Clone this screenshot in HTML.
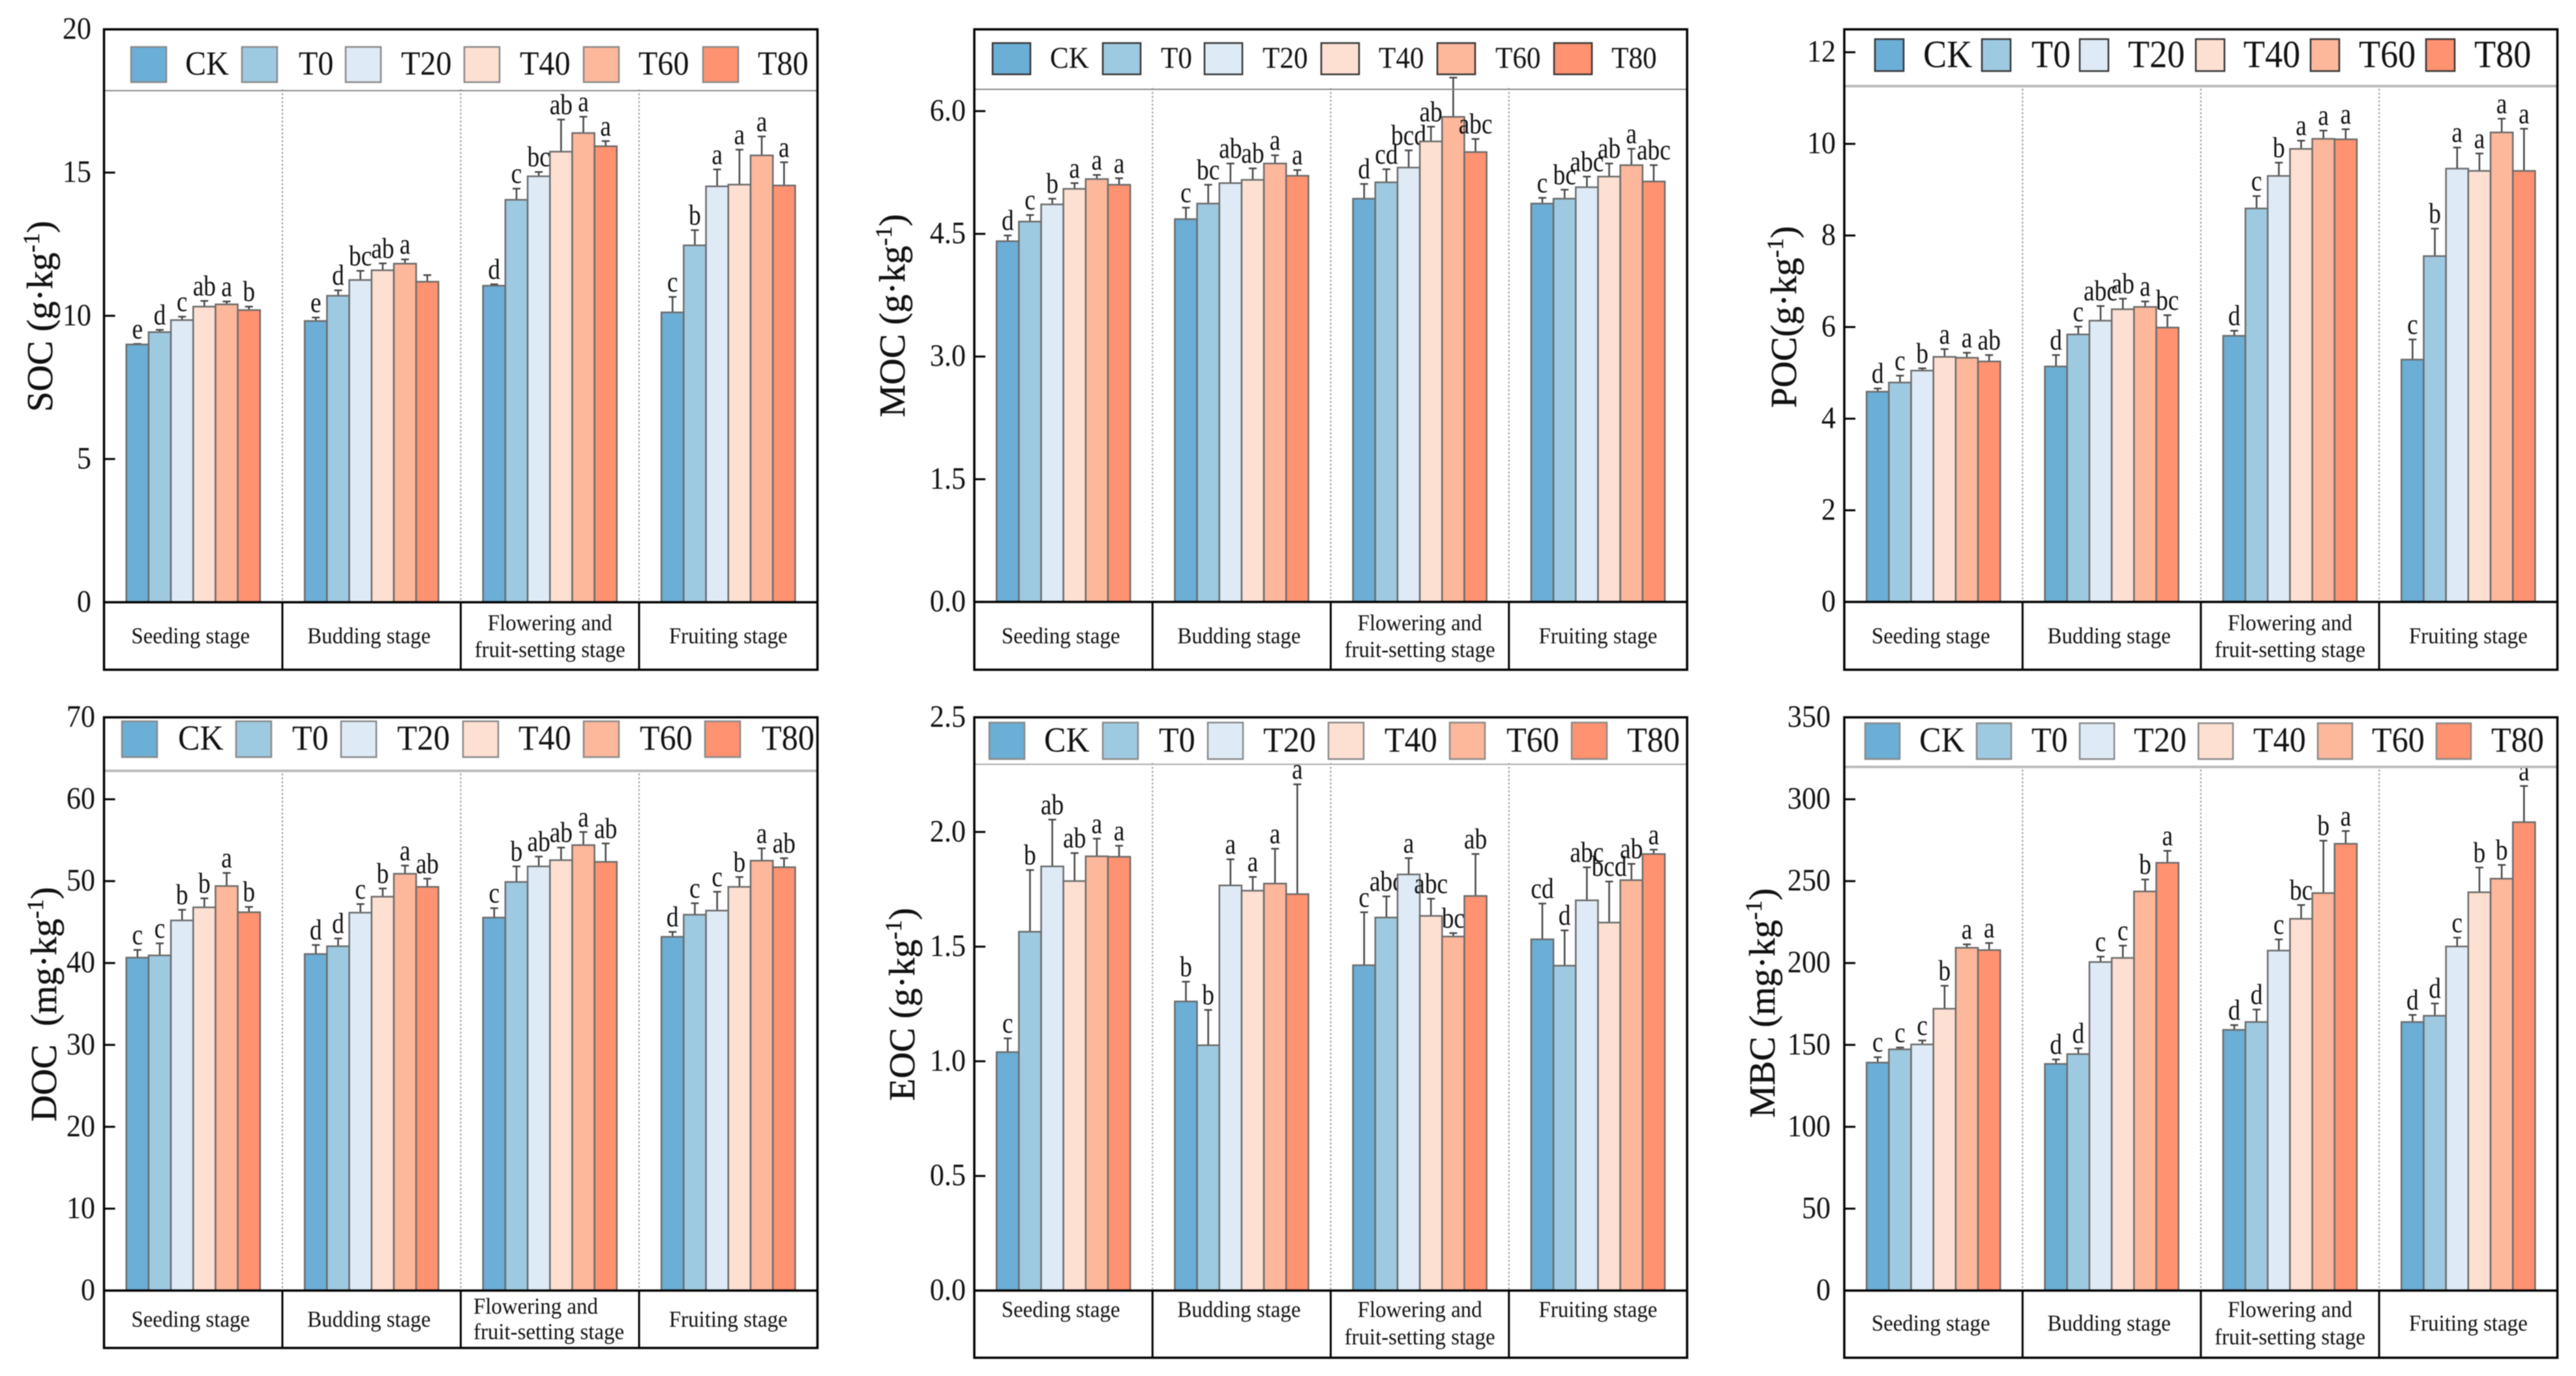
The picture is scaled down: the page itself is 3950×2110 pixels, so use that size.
<!DOCTYPE html>
<html lang="en">
<head>
<meta charset="utf-8">
<title>Soil carbon fractions by growth stage</title>
<style>
html,body{margin:0;padding:0;background:#fff;}
#figure{display:block;width:3950px;height:2110px;background:#fff;font-family:"Liberation Serif",serif;filter:blur(0.7px);}
text{font-family:"Liberation Serif",serif;fill:#111;}
</style>
</head>
<body>
<svg id="figure" xmlns="http://www.w3.org/2000/svg" width="3950" height="2110" viewBox="0 0 3950 2110"></svg>
<script>
// ---- shared categories ----
const stages = ['Seeding stage', 'Budding stage', 'Flowering and|fruit-setting stage', 'Fruiting stage'];
const treatments = ['CK', 'T0', 'T20', 'T40', 'T60', 'T80'];

// ---- SOC ----
const socTickLabels = ['0', '5', '10', '15', '20'];
const socMeans = [[9.0, 9.43, 9.85, 10.32, 10.4, 10.2], [9.82, 10.7, 11.25, 11.59, 11.82, 11.19], [11.05, 14.05, 14.87, 15.73, 16.38, 15.92], [10.12, 12.46, 14.52, 14.58, 15.6, 14.55]];
const socErrors = [[0.02, 0.08, 0.12, 0.2, 0.1, 0.12], [0.12, 0.19, 0.32, 0.24, 0.15, 0.23], [0.05, 0.39, 0.15, 1.12, 0.57, 0.18], [0.54, 0.53, 0.59, 1.22, 0.66, 0.81]];
const socLetters = [['e', 'd', 'c', 'ab', 'a', 'b'], ['e', 'd', 'bc', 'ab', 'a', ''], ['d', 'c', 'bc', 'ab', 'a', 'a'], ['c', 'b', 'a', 'a', 'a', 'a']];

// ---- MOC ----
const mocTickLabels = ['0.0', '1.5', '3.0', '4.5', '6.0'];
const mocMeans = [[4.41, 4.65, 4.86, 5.05, 5.17, 5.1], [4.68, 4.87, 5.12, 5.16, 5.36, 5.21], [4.93, 5.13, 5.31, 5.63, 5.93, 5.5], [4.87, 4.93, 5.07, 5.2, 5.34, 5.14]];
const mocErrors = [[0.07, 0.08, 0.07, 0.07, 0.05, 0.08], [0.14, 0.23, 0.24, 0.14, 0.1, 0.07], [0.18, 0.16, 0.21, 0.18, 0.48, 0.16], [0.07, 0.11, 0.13, 0.16, 0.2, 0.2]];
const mocLetters = [['d', 'c', 'b', 'a', 'a', 'a'], ['c', 'bc', 'ab', 'ab', 'a', 'a'], ['d', 'cd', 'bcd', 'ab', '', 'abc'], ['c', 'bc', 'abc', 'ab', 'a', 'abc']];

// ---- POC ----
const pocTickLabels = ['0', '2', '4', '6', '8', '10', '12'];
const pocMeans = [[4.59, 4.79, 5.05, 5.35, 5.33, 5.25], [5.14, 5.84, 6.14, 6.39, 6.44, 5.99], [5.81, 8.59, 9.3, 9.89, 10.11, 10.1], [5.29, 7.55, 9.46, 9.41, 10.25, 9.41]];
const pocErrors = [[0.07, 0.15, 0.05, 0.17, 0.11, 0.14], [0.25, 0.17, 0.32, 0.23, 0.12, 0.27], [0.11, 0.27, 0.29, 0.18, 0.18, 0.22], [0.44, 0.6, 0.46, 0.38, 0.3, 0.92]];
const pocLetters = [['d', 'c', 'b', 'a', 'a', 'ab'], ['d', 'c', 'abc', 'ab', 'a', 'bc'], ['d', 'c', 'b', 'a', 'a', 'a'], ['c', 'b', 'a', 'a', 'a', 'a']];

// ---- DOC ----
const docTickLabels = ['0', '10', '20', '30', '40', '50', '60', '70'];
const docMeans = [[40.66, 40.93, 45.2, 46.8, 49.4, 46.2], [41.1, 42.05, 46.15, 48.1, 50.9, 49.3], [45.55, 49.9, 51.8, 52.56, 54.4, 52.35], [43.2, 45.9, 46.4, 49.3, 52.5, 51.7]];
const docErrors = [[0.94, 1.47, 1.3, 1.1, 1.6, 0.65], [1.1, 0.95, 1.05, 1.0, 1.0, 1.0], [1.15, 1.9, 1.2, 1.54, 1.6, 2.25], [0.6, 1.4, 2.3, 1.2, 1.5, 1.1]];
const docLetters = [['c', 'c', 'b', 'b', 'a', 'b'], ['d', 'd', 'c', 'b', 'a', 'ab'], ['c', 'b', 'ab', 'ab', 'a', 'ab'], ['d', 'c', 'c', 'b', 'a', 'ab']];

// ---- EOC ----
const eocTickLabels = ['0.0', '0.5', '1.0', '1.5', '2.0', '2.5'];
const eocMeans = [[1.04, 1.565, 1.85, 1.786, 1.894, 1.892], [1.261, 1.07, 1.767, 1.744, 1.775, 1.729], [1.419, 1.627, 1.815, 1.634, 1.544, 1.721], [1.532, 1.417, 1.702, 1.605, 1.79, 1.904]];
const eocErrors = [[0.06, 0.269, 0.204, 0.122, 0.077, 0.048], [0.086, 0.154, 0.114, 0.06, 0.152, 0.479], [0.231, 0.092, 0.071, 0.075, 0.015, 0.183], [0.156, 0.154, 0.144, 0.179, 0.071, 0.019]];
const eocLetters = [['c', 'b', 'ab', 'ab', 'a', 'a'], ['b', 'b', 'a', 'a', 'a', 'a'], ['c', 'abc', 'a', 'abc', 'bc', 'ab'], ['cd', 'd', 'abc', 'bcd', 'ab', 'a']];

// ---- MBC ----
const mbcTickLabels = ['0', '50', '100', '150', '200', '250', '300', '350'];
const mbcMeans = [[139.2, 147.3, 150.3, 172.1, 209.3, 207.9], [138.4, 144.4, 200.6, 203.1, 243.7, 261.2], [159.2, 164, 207.6, 227, 242.7, 272.8], [164, 167.8, 210.1, 243.2, 251.5, 286]];
const mbcErrors = [[3.3, 1.1, 2.4, 14, 2.1, 4.3], [2.7, 3.5, 3.3, 7.5, 7.3, 7.3], [2.9, 7.6, 6.8, 8.4, 32, 7.8], [4.3, 7.5, 5.4, 15.1, 8.4, 22.1]];
const mbcLetters = [['c', 'c', 'c', 'b', 'a', 'a'], ['d', 'd', 'c', 'c', 'b', 'a'], ['d', 'd', 'c', 'bc', 'b', 'a'], ['d', 'd', 'c', 'b', 'b', 'a']];

// ---- styling ----
const fills = ['#6BAED6', '#9ECAE1', '#DEEBF7', '#FEE0D2', '#FDB79B', '#FF9270'];

// ---- panel definitions (layout lives here, values above) ----
const panels = [
  {id:'soc', prefix:'SOC (g·kg', suffix:')', yMax:20, ticks:socTickLabels, means:socMeans, errors:socErrors, letters:socLetters,
   left:159.5, right:1253.5, top:45, legendLine:139, base:923.5, bottom:1027, titleX:62, titleY:485, tickRight:140,
   stageY:977, stageTwo:[957,998], lineW:2, lineC:'#888',
   lgX:[201,371,530,712,895,1078], lgW:54, lgTop:72, lgBot:126, lgTx:[284,458,615,797,979,1162], lgY:98.5, lgFont:48, lgStroke:'#888'},
  {id:'moc', prefix:'MOC (g·kg', suffix:')', yMax:7, ticks:mocTickLabels, means:mocMeans, errors:mocErrors, letters:mocLetters,
   left:1494, right:2587, top:45, legendLine:137, base:923, bottom:1027, titleX:1369, titleY:484, tickRight:1481,
   stageY:977, stageTwo:[957,998], lineW:2, lineC:'#888',
   lgX:[1522,1691,1847,2026,2204,2383], lgW:58, lgTop:66, lgBot:114, lgTx:[1610,1780,1936,2114,2293,2471], lgY:90, lgFont:43, lgStroke:'#333'},
  {id:'poc', prefix:'POC(g·kg', suffix:')', yMax:12.5, ticks:pocTickLabels, means:pocMeans, errors:pocErrors, letters:pocLetters,
   left:2828, right:3921.5, top:45, legendLine:132, base:923, bottom:1027, titleX:2736, titleY:486, tickRight:2815,
   stageY:977, stageTwo:[957,998], lineW:4, lineC:'#bbb',
   lgX:[2875,3039,3189,3367,3543,3720], lgW:44, lgTop:60, lgBot:109, lgTx:[2949,3115,3263,3440,3617,3794], lgY:85, lgFont:54, lgStroke:'#333'},
  {id:'doc', prefix:'DOC\u00A0\u00A0(mg·kg', suffix:')', yMax:70, ticks:docTickLabels, means:docMeans, errors:docErrors, letters:docLetters,
   left:159.5, right:1253.5, top:1100, legendLine:1182, base:1979, bottom:2067, titleX:68, titleY:1540, tickRight:146,
   stageY:2025, stageTwo:[2005,2044], stageTwoLeft:726, lineW:4, lineC:'#bbb',
   lgX:[187,362,523,710,895,1081], lgW:54, lgTop:1106, lgBot:1161, lgTx:[273,448,609,795,981,1168], lgY:1133, lgFont:50, lgStroke:'#888'},
  {id:'eoc', prefix:'EOC (g·kg', suffix:')', yMax:2.5, ticks:eocTickLabels, means:eocMeans, errors:eocErrors, letters:eocLetters,
   left:1494, right:2587, top:1100, legendLine:1172, base:1979, bottom:2082, titleX:1384, titleY:1540, tickRight:1481,
   stageY:2010, stageTwo:[2010,2052], lineW:2, lineC:'#aaa',
   lgX:[1517,1691,1852,2037,2223,2410], lgW:54, lgTop:1108, lgBot:1164, lgTx:[1601,1777,1937,2123,2310,2495], lgY:1136, lgFont:50, lgStroke:'#888'},
  {id:'mbc', prefix:'MBC (mg·kg', suffix:')', yMax:350, ticks:mbcTickLabels, means:mbcMeans, errors:mbcErrors, letters:mbcLetters,
   left:2828, right:3921.5, top:1100, legendLine:1176, base:1979, bottom:2082, titleX:2703, titleY:1538, tickRight:2807,
   stageY:2031, stageTwo:[2010,2052], lineW:4, lineC:'#bbb',
   lgX:[2860,3031,3189,3371,3554,3736], lgW:53, lgTop:1109, lgBot:1164, lgTx:[2943,3115,3272,3455,3637,3820], lgY:1136, lgFont:50, lgStroke:'#888'}
];

const NS = 'http://www.w3.org/2000/svg';
const svg = document.getElementById('figure');

function make(tag, attrs, parent, content) {
  const el = document.createElementNS(NS, tag);
  for (const k in attrs) el.setAttribute(k, attrs[k]);
  if (content !== undefined) el.textContent = content;
  parent.appendChild(el);
  return el;
}

// The source figure's text is slightly condensed horizontally.
function label(parent, str, x, y, size, squeeze, anchor) {
  return make('text', {transform:'translate(' + x + ',' + y + ') scale(' + squeeze + ',1)', x:0, y:0, 'text-anchor':anchor, 'font-size':size}, parent, str);
}

function drawPanel(p) {
  const group = make('g', {}, svg);
  
  

  const yScale = v => p.base - (v / p.yMax) * (p.base - p.top);
  const cellW = (p.right - p.left) / stages.length;
  const barW = cellW * 0.75 / treatments.length;
  const xScale = (s, t) => p.left + s * cellW + cellW * 0.125 + t * barW;

  // dotted stage separators
  for (let s = 1; s < stages.length; s++) {
    const sx = p.left + s * cellW;
    const dot = make('line', {x1:sx, x2:sx, y1:p.legendLine - 2, y2:p.base, stroke:'#999', 'stroke-width':2, 'stroke-dasharray':'3 3'}, group);
    
    
  }

  // bars, error bars, significance letters
  stages.forEach((stage, s) => {
    treatments.forEach((tr, t) => {
      const mean = p.means[s][t];
      const err = p.errors[s][t];
      const x = xScale(s, t);
      const cx = x + barW / 2;
      const yTop = yScale(mean);
      const yErr = yScale(mean + err);

      const stem = make('line', {x1:cx, x2:cx, y1:yTop, y2:yErr, stroke:'#444', 'stroke-width':2.5}, group);
      
      
      const cap = make('line', {x1:cx - 6, x2:cx + 6, y1:yErr, y2:yErr, stroke:'#444', 'stroke-width':2.5}, group);
      
      

      const bar = make('rect', {x:x, y:yTop, width:barW, height:p.base - yTop, fill:fills[t], stroke:'#6a6a6a', 'stroke-width':2.5}, group);
      
      

      if (p.letters[s][t]) {
        const letter = label(group, p.letters[s][t], cx, yErr - 8.5, 44, 0.85, 'middle');
        
        
      }
    });
  });

  // legend separator
  const sep = make('line', {x1:p.left, x2:p.right, y1:p.legendLine, y2:p.legendLine, stroke:p.lineC, 'stroke-width':p.lineW}, group);
  
  

  // legend
  treatments.forEach((tr, t) => {
    const swatch = make('rect', {x:p.lgX[t], y:p.lgTop, width:p.lgW, height:p.lgBot - p.lgTop, fill:fills[t], stroke:p.lgStroke, 'stroke-width':2.5}, group);
    
    
    const lab = label(group, tr, p.lgTx[t], p.lgY + p.lgFont * 0.33, p.lgFont * 1.09, 0.92, 'start');
    
    
  });

  // frame and lower stage strip
  const frame = make('rect', {x:p.left, y:p.top, width:p.right - p.left, height:p.bottom - p.top, fill:'none', stroke:'#000', 'stroke-width':3.5}, group);
  
  
  const baseLine = make('line', {x1:p.left, x2:p.right, y1:p.base, y2:p.base, stroke:'#000', 'stroke-width':3.5}, group);
  
  

  stages.forEach((stage, s) => {
    if (s > 0) {
      const sx = p.left + s * cellW;
      const div = make('line', {x1:sx, x2:sx, y1:p.base, y2:p.bottom, stroke:'#000', 'stroke-width':3}, group);
      
      
    }
    const cx = p.left + (s + 0.5) * cellW;
    const lines = stage.split('|');
    lines.forEach((line, i) => {
      const ly = lines.length === 1 ? p.stageY : p.stageTwo[i];
      const shift = s < 2 ? -4 : 0;
      const leftAligned = lines.length > 1 && p.stageTwoLeft;
      const stageText = label(group, line, leftAligned ? p.stageTwoLeft : cx + shift, ly + 9.5, 35, 0.94, leftAligned ? 'start' : 'middle');
      
      
    });
  });

  // y ticks
  p.ticks.forEach(tickLabel => {
    const v = parseFloat(tickLabel);
    const ty = yScale(v);
    const tick = make('line', {x1:p.left, x2:p.left + 17, y1:ty, y2:ty, stroke:'#000', 'stroke-width':3}, group);
    
    
    const tickText = label(group, tickLabel, p.tickRight, ty + 14.5, 47.5, 0.93, 'end');
    
    
  });

  // y-axis title
  const title = make('text', {transform:'translate(' + p.titleX + ',' + p.titleY + ') rotate(-90)', x:0, y:18, 'text-anchor':'middle', 'font-size':56, stroke:'#111', 'stroke-width':0.5}, group);
  
  
  make('tspan', {}, title, p.prefix);
  make('tspan', {dy:-20, 'font-size':36}, title, '-1');
  make('tspan', {dy:20}, title, p.suffix);
}

panels.forEach(drawPanel);
</script>
</body>
</html>
